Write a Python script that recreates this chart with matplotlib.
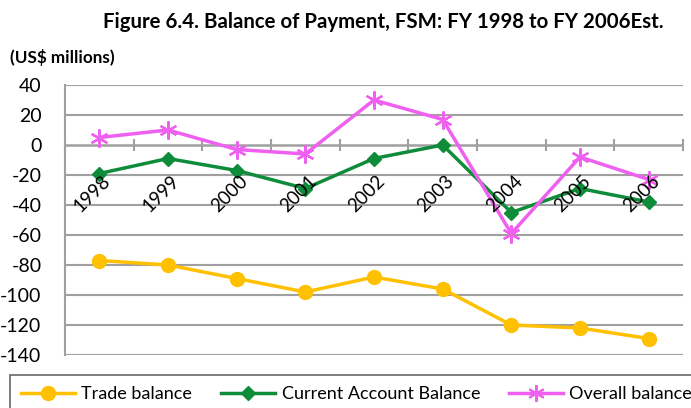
import matplotlib
matplotlib.use("Agg")
import matplotlib.pyplot as plt
from matplotlib.lines import Line2D

plt.rcParams['font.family'] = ['Lato', 'DejaVu Sans']

years = ['1998', '1999', '2000', '2001', '2002', '2003', '2004', '2005', '2006']
trade_balance = [-77, -80, -89, -98, -88, -96, -120, -122, -129]
current_account = [-19, -9, -17, -29, -9, 0, -45, -29, -38]
overall_balance = [5, 10, -3, -6, 30, 17, -59, -8, -23]
y_ticks = [40, 20, 0, -20, -40, -60, -80, -100, -120, -140]

c_trade = '#FFC000'
c_ca = '#0E8C3A'
c_ov = '#F060F0'
grid_c = '#A0A0A0'

fig = plt.figure(figsize=(6.91, 4.08), dpi=100)
ax = fig.add_axes([65/691, 1-355/408, (683-65)/691, (355-85)/408])

x = list(range(len(years)))
star = (6, 2, 0)
ax.plot(x, trade_balance, color=c_trade, lw=2.5, marker='o', ms=10, zorder=3)
ax.plot(x, current_account, color=c_ca, lw=2.5, marker='D', ms=7.5, zorder=3)
ax.plot(x, overall_balance, color=c_ov, lw=2.5, marker=star, ms=13, mew=1.6, zorder=4)

ax.set_xlim(-0.5, len(years) - 0.5)
ax.set_ylim(-140, 40)
ax.set_yticks(y_ticks)
ax.set_yticklabels([str(v) for v in y_ticks], fontsize=14)
ax.tick_params(axis='y', length=0, pad=17)
ax.set_xticks([])
for v in y_ticks:
    if v != 0:
        ax.axhline(v, color=grid_c, lw=1.5, zorder=1)
ax.axhline(0, color=grid_c, lw=1.8, zorder=2)
# category boundary tick marks crossing the zero axis
for b in range(len(years) + 1):
    ax.plot([b - 0.5, b - 0.5], [-3.5, 3.5], color=grid_c, lw=1.5, zorder=2, clip_on=False)

for s in ['top', 'right', 'bottom']:
    ax.spines[s].set_visible(False)
ax.spines['left'].set_color(grid_c)
ax.spines['left'].set_linewidth(1.5)

for i, yr in enumerate(years):
    ax.text(i + 0.12, -22, yr, rotation=45, ha='right', va='center',
            rotation_mode='anchor', fontsize=13.5, zorder=5)

fig.text(383/691, 1 - 22/408, 'Figure 6.4. Balance of Payment, FSM: FY 1998 to FY 2006Est.',
         ha='center', va='center', fontsize=14.7, fontweight='bold')
fig.text(10/691, 1 - 57/408, '(US$ millions)', ha='left', va='center',
         fontsize=12.3, fontweight='bold')

handles = [
    Line2D([], [], color=c_trade, lw=2.5, marker='o', ms=10),
    Line2D([], [], color=c_ca, lw=2.5, marker='D', ms=7),
    Line2D([], [], color=c_ov, lw=2.5, marker=star, ms=12, mew=1.5),
]
labels = ['Trade balance', 'Current Account Balance', 'Overall balance']
leg = fig.legend(handles, labels, loc='upper left', ncol=3,
                 bbox_to_anchor=(10/691, 1 - 375/408), borderaxespad=0,
                 fontsize=13, frameon=True,
                 fancybox=False, edgecolor='#404040', handlelength=3.0,
                 handletextpad=0.35, columnspacing=1.6, borderpad=0.6)
leg.get_frame().set_linewidth(1.2)

fig.savefig('out.png', dpi=100)
